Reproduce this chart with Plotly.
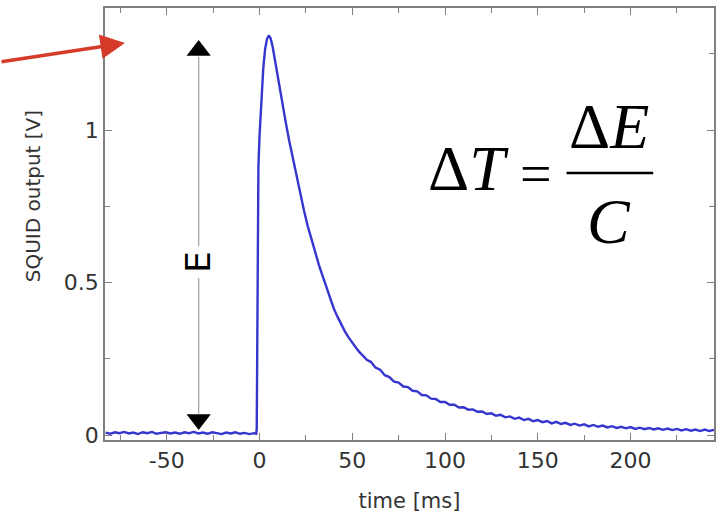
import plotly.graph_objects as go

# ---- data ----
time_ms = [
    -83, -80.5, -78, -75.5, -73, -70.5, -68, -65.5, -63, -60.5, -58, -55.5, -53, -50.5,
    -48, -45.5, -43, -40.5, -38, -35.5, -33, -30.5, -28, -25.5, -23, -20.5, -18, -15.5,
    -13, -10.5, -8, -5.5, -3, -1.8,
    -1.5, -1.3, -1.1, -0.6, 0, 0.5, 1, 2, 3, 4, 5, 6, 7, 8, 9, 10, 12, 14, 16, 18, 20,
    22, 24, 26, 28, 30, 32, 34, 36, 38, 40, 42, 44, 46, 48, 50, 52, 54, 56, 58,
    60, 62.5, 65, 67.5, 70, 72.5, 75, 77.5, 80, 82.5, 85, 87.5, 90, 92.5, 95, 97.5,
    100, 102.5, 105, 107.5, 110, 112.5, 115, 117.5, 120, 122.5, 125, 127.5, 130, 132.5,
    135, 137.5, 140, 142.5, 145, 147.5, 150, 152.5, 155, 157.5, 160, 162.5, 165, 167.5,
    170, 172.5, 175, 177.5, 180, 182.5, 185, 187.5, 190, 192.5, 195, 197.5, 200, 202.5,
    205, 207.5, 210, 212.5, 215, 217.5, 220, 222.5, 225, 227.5, 230, 232.5, 235, 237.5,
    240, 242.5, 245,
]
squid_v = [
    .008, .004, .009, .006, .010, .005, .008, .003, .009, .006, .010, .004, .007, .009,
    .005, .008, .004, .009, .006, .010, .005, .008, .004, .009, .006, .003, .008, .005,
    .009, .004, .007, .003, .006, .004,
    0.02, 0.35, 0.70, 0.88, 0.98, 1.04, 1.10, 1.20, 1.265, 1.298, 1.31, 1.30, 1.275, 1.24,
    1.20, 1.165, 1.09, 1.03, 0.965, 0.905, 0.845,
    0.79, 0.735, 0.685, 0.64, 0.598, 0.558, 0.522, 0.487, 0.445, 0.415, 0.388, 0.363,
    0.340, 0.320, 0.302, 0.286, 0.271, 0.258, 0.246,
    .240, .221, .214, .196, .190, .175, .172, .159, .157, .145, .143, .131, .130, .119,
    .118, .108, .108, .099, .099, .090, .091, .083, .084, .076, .077, .069, .071, .063,
    .066, .058, .061, .053, .057, .049, .053, .045, .049, .042, .046, .038, .043, .036,
    .040, .033, .037, .031, .035, .028, .033, .027, .031, .025, .029, .023, .027, .022,
    .026, .020, .024, .019, .023, .018, .022, .017, .021, .016, .020, .015, .019, .014,
    .018, .013, .018, .013, .017,
]
x_ticks = [-50, 0, 50, 100, 150, 200]
y_ticks = [0, 0.5, 1]
y_tick_labels = ["0", "0.5", "1"]
e_arrow_t = [-32.8, -32.8]
e_arrow_v = [0.07, 1.24]
e_tri_up_v = [1.261]
e_tri_down_v = [0.051]

W, H = 720, 516
ML, MR, MT, MB = 105, 4, 8, 76


def px(x):
    return (x - ML) / (W - ML - MR)


def py(y):
    return (H - MB - y) / (H - MT - MB)


fig = go.Figure()
fig.add_trace(go.Scatter(x=e_arrow_t, y=e_arrow_v, mode="lines",
                         line=dict(color="#a8a8a8", width=1.3), hoverinfo="skip"))
fig.add_trace(go.Scatter(x=e_arrow_t[:1], y=e_tri_up_v, mode="markers",
                         marker=dict(symbol="triangle-up", size=21, color="black"), hoverinfo="skip"))
fig.add_trace(go.Scatter(x=e_arrow_t[:1], y=e_tri_down_v, mode="markers",
                         marker=dict(symbol="triangle-down", size=21, color="black"), hoverinfo="skip"))
fig.add_trace(go.Scatter(x=time_ms, y=squid_v, mode="lines",
                         line=dict(color="#3636cf", width=2.4)))

sans = "DejaVu Sans"
axis_common = dict(
    showline=True, linecolor="#808080", linewidth=1.5, mirror="ticks",
    ticks="inside", ticklen=7, tickwidth=1.2, tickcolor="#808080",
    showgrid=False, zeroline=False,
    tickfont=dict(family=sans, size=22, color="#333333"),
)
fig.update_xaxes(range=[-83.3, 245], tickvals=x_ticks, ticktext=[str(v) for v in x_ticks],
                 minor=dict(dtick=25, tick0=0, ticks="inside", ticklen=5, tickcolor="#808080"),
                 title=dict(text="time [ms]", font=dict(family=sans, size=21, color="#333333"),
                            standoff=21),
                 **axis_common)
fig.update_yaxes(range=[-0.0164, 1.4], tickvals=y_ticks, ticktext=y_tick_labels,
                 minor=dict(dtick=0.25, tick0=0, ticks="inside", ticklen=5, tickcolor="#808080"),
                 **axis_common)

c = dict(xref="paper", yref="paper", xanchor="center", yanchor="middle", showarrow=False)
fig.add_annotation(text="SQUID output [V]", x=px(33), y=py(196), textangle=-90,
                   font=dict(family=sans, size=20, color="#333333"), **c)

serif = "Liberation Serif"
fig.add_annotation(text="\u0394<i>T</i>", x=px(470), y=py(168),
                   font=dict(family=serif, size=64, color="black"), **c)
fig.add_annotation(text="=", x=px(537), y=py(174),
                   font=dict(family=serif, size=56, color="black"), **c)
fig.add_annotation(text="\u0394<i>E</i>", x=px(611), y=py(126),
                   font=dict(family=serif, size=64, color="black"), **c)
fig.add_annotation(text="<i>C</i>", x=px(611), y=py(221),
                   font=dict(family=serif, size=64, color="black"), **c)
fig.add_shape(type="line", xref="paper", yref="paper", x0=px(568), x1=px(655), y0=py(173), y1=py(173),
              line=dict(color="black", width=2.5))

fig.add_annotation(text="E", x=px(198), y=py(262), textangle=-90,
                   bgcolor="white", borderpad=5,
                   font=dict(family=sans, size=34, color="black"), **c)

fig.add_annotation(text="", xref="paper", yref="paper", x=px(125), y=py(43),
                   ax=-125, ay=19, axref="pixel", ayref="pixel",
                   showarrow=True, arrowhead=2, arrowsize=1.4, arrowwidth=3.5, arrowcolor="#d63a28")

fig.update_layout(width=W, height=H, margin=dict(l=ML, r=MR, t=MT, b=MB),
                  paper_bgcolor="white", plot_bgcolor="white", showlegend=False)
fig.write_html("out.html", config={"displayModeBar": False},
               post_script="document.body.style.margin='0';")
